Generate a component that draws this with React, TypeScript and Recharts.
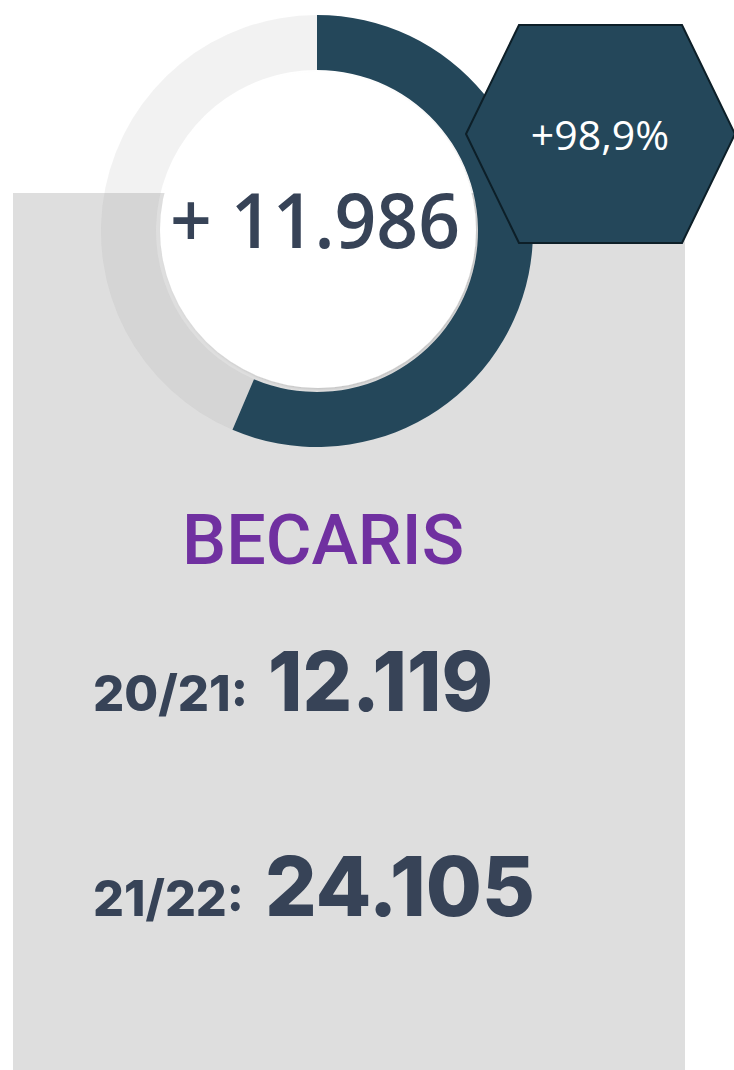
import React from 'react';
import { PieChart, Pie, Cell } from 'recharts';

// share of the ring that is filled
const ringSlices = ['increment', 'rest'];
const ringValues = [56.4, 43.6];
const ringColors = ['#24475a', '#949494'];
const ringOpacity = [1, 0.12];

const increaseLabel = '+ 11.986';
const percentLabel = '+98,9%';
const title = 'BECARIS';
const seasons = ['20/21:', '21/22:'];
const seasonValues = ['12.119', '24.105'];

const ringData = ringSlices.map((name, i) => ({ name, value: ringValues[i] }));

const W = 734;
const H = 1070;
const slate = '#374357';

if (typeof document !== 'undefined') document.body.style.margin = '0';

const App: React.FC = () => {
  return (
    <div style={{ position: 'relative', width: W, height: H, background: '#ffffff', overflow: 'hidden' }}>
      {/* gray card behind everything */}
      <div style={{ position: 'absolute', left: 13, top: 193, width: 672, height: H - 193, background: '#dedede' }} />

      <div style={{ position: 'absolute', left: 0, top: 0 }}>
        <PieChart width={W} height={470} margin={{ top: 0, right: 0, bottom: 0, left: 0 }}>
          <Pie
            data={ringData}
            dataKey="value"
            nameKey="name"
            cx={317}
            cy={231}
            innerRadius={161}
            outerRadius={216}
            startAngle={90}
            endAngle={-270}
            stroke="none"
            isAnimationActive={false}
          >
            {ringData.map((d, i) => (
              <Cell key={d.name} fill={ringColors[i]} fillOpacity={ringOpacity[i]} />
            ))}
          </Pie>
        </PieChart>
      </div>

      <svg width={W} height={H} style={{ position: 'absolute', left: 0, top: 0 }}>
        <defs>
          <filter id="discShadow" x="-10%" y="-10%" width="120%" height="120%">
            <feDropShadow dx="1.5" dy="1.5" stdDeviation="1.2" floodColor="#000" floodOpacity="0.12" />
          </filter>
        </defs>
        <circle cx={318} cy={230} r={158} fill="#ffffff" filter="url(#discShadow)" />
        <text
          x={315}
          y={248}
          textAnchor="middle"
          fontFamily="'Open Sans', sans-serif"
          fontWeight={600}
          fontSize={76}
          fill={slate}
          textLength={290}
          lengthAdjust="spacingAndGlyphs"
        >
          {increaseLabel}
        </text>

        <polygon
          points="466,134 519,25 682,25 735,134 682,243 519,243"
          fill="#24475a"
          stroke="#0d1f28"
          strokeWidth={2}
        />
        <text x={600} y={150} textAnchor="middle" fontFamily="'Open Sans', sans-serif" fontSize={41} fill="#ffffff">
          {percentLabel}
        </text>

        <text x={323} y={564} textAnchor="middle" fontFamily="Roboto, sans-serif" fontWeight={500} fontSize={70} fill="#7030a0">
          {title}
        </text>

        {seasons.map((s, i) => {
          const base = i === 0 ? 711 : 916;
          const bigX = i === 0 ? 268 : 265;
          const bigW = i === 0 ? 225 : 270;
          const smallW = i === 0 ? 155 : 151;
          return (
            <g key={s}>
              <text
                x={93}
                y={base}
                fontFamily="Inter, sans-serif"
                fontWeight={800}
                fontSize={50}
                fill={slate}
                textLength={smallW}
                lengthAdjust="spacingAndGlyphs"
              >
                {s}
              </text>
              <text
                x={bigX}
                y={base}
                fontFamily="Inter, sans-serif"
                fontWeight={800}
                fontSize={83}
                fill={slate}
                textLength={bigW}
                lengthAdjust="spacingAndGlyphs"
              >
                {seasonValues[i]}
              </text>
            </g>
          );
        })}
      </svg>
    </div>
  );
};

export default App;
